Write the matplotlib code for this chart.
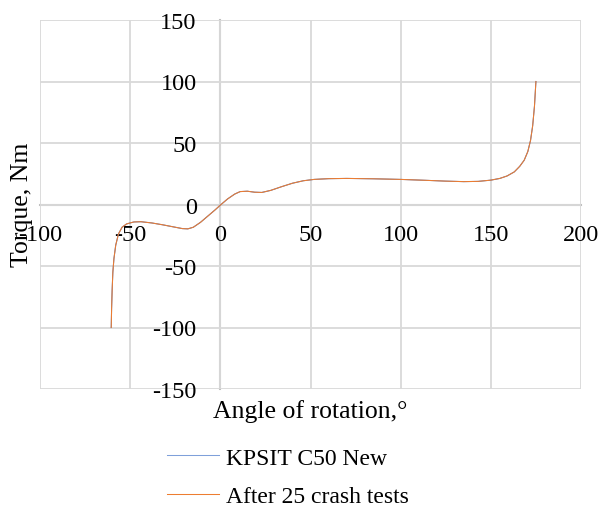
import numpy as np
import matplotlib
matplotlib.use('agg')
import matplotlib.pyplot as plt

plt.rcParams['font.family'] = ['Liberation Serif', 'DejaVu Serif']
plt.rcParams['axes.unicode_minus'] = False

# angle of rotation (deg) and torque (Nm)
angle = [-60.5, -60.3, -60.0, -59.6, -59.0, -58.0, -56.5, -54.5, -52.0, -48.0, -44.0,
         -38.0, -32.0, -26.0, -21.0, -18.0, -15.0, -11.0, -7.0, -3.0, 0.0, 4.0, 8.0,
         11.0, 15.0, 19.0, 23.0, 28.0, 34.0, 40.0, 46.0, 52.0, 60.0, 70.0, 85.0, 100.0,
         115.0, 125.0, 135.0, 143.0, 150.0, 155.0, 159.0, 163.0, 166.0, 168.5, 170.5,
         172.0, 173.2, 174.2, 175.0]
torque_new = [-100.0, -85.0, -70.0, -55.0, -44.0, -33.0, -24.0, -18.5, -15.8, -14.2, -14.0,
              -15.0, -16.5, -18.2, -19.6, -19.8, -18.5, -14.5, -9.5, -4.5, -0.5, 4.5, 8.5,
              10.5, 10.8, 10.0, 9.8, 11.5, 14.5, 17.3, 19.3, 20.4, 21.0, 21.2, 20.9, 20.4,
              19.6, 19.0, 18.6, 18.8, 19.8, 21.2, 23.2, 26.5, 31.0, 36.0, 43.0, 52.0,
              64.0, 80.0, 100.0]
torque_after = [-100.0, -85.0, -70.0, -55.0, -44.0, -33.0, -24.0, -18.5, -15.8, -14.2, -14.0,
                -15.0, -16.5, -18.2, -19.6, -19.8, -18.5, -14.5, -9.5, -4.5, -0.5, 4.5, 8.5,
                10.5, 10.8, 10.0, 9.8, 11.5, 14.5, 17.3, 19.3, 20.4, 21.0, 21.2, 20.9, 20.4,
                19.6, 19.0, 18.6, 18.8, 19.8, 21.2, 23.2, 26.5, 31.0, 36.0, 43.0, 52.0,
                64.0, 80.0, 100.0]

xticks = [-100, -50, 0, 50, 100, 150, 200]
yticks = [-150, -100, -50, 0, 50, 100, 150]

fig = plt.figure(figsize=(6.03, 5.06), dpi=100)
ax = fig.add_axes([40/603, 1 - 390/506, 541/603, 369/506])

ax.plot(angle, torque_new, color='#4472C4', lw=0.75, label='KPSIT C50 New')
ax.plot(angle, torque_after, color='#ED7D31', lw=0.75, label='After 25 crash tests')

ax.set_xlim(-100, 200)
ax.set_ylim(-150, 150)
ax.set_xticks(xticks)
ax.set_yticks(yticks)
ax.grid(True, color='#D9D9D9', lw=1.3)
ax.set_axisbelow(True)

for s in ['top', 'right']:
    ax.spines[s].set_visible(False)
ax.spines['left'].set_position(('data', 0))
ax.spines['bottom'].set_position(('data', 0))
for s in ['left', 'bottom']:
    ax.spines[s].set_color('#BFBFBF')
    ax.spines[s].set_linewidth(1.5)
    ax.spines[s].set_zorder(0.5)

ax.tick_params(axis='both', length=0, labelsize=17.5, colors='black')
ax.tick_params(axis='x', pad=14)
ax.tick_params(axis='y', pad=17)

fig.text(22/603, 1 - 205/506, 'Torque, Nm', rotation=90, ha='center', va='center', fontsize=18.5)
fig.text(310/603, 1 - 412/506, 'Angle of rotation,°', ha='center', va='center', fontsize=18.5)

leg = fig.legend(loc='upper left', bbox_to_anchor=(167/603, 1 - 448/506), frameon=False,
                 fontsize=17, handlelength=2.2, handletextpad=0.3, labelspacing=0.72,
                 borderpad=0, borderaxespad=0)
leg.get_lines()[0].set_color('#7FA0DA')

plt.savefig('out.png', dpi=100)
